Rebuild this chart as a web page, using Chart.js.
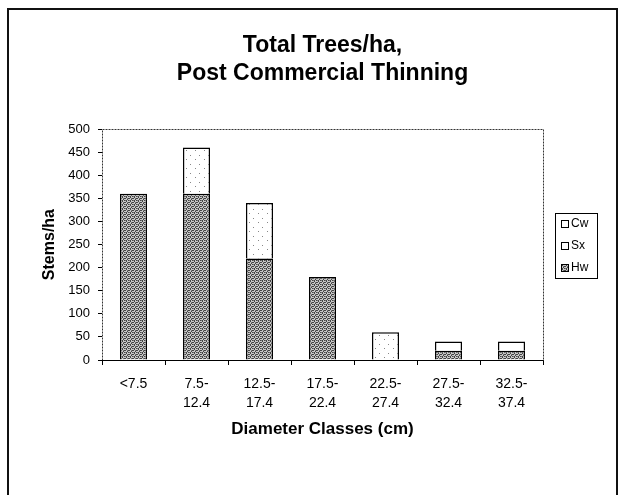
<!DOCTYPE html>
<html>
<head>
<meta charset="utf-8">
<script src="https://cdn.jsdelivr.net/npm/chart.js@4"></script>
<style>
  html, body { margin: 0; padding: 0; background: #fff; }
</style>
</head>
<body>
<canvas id="treesChart" width="621" height="495"></canvas>
<script>
// chart data
var categories = [['<7.5'], ['7.5-', '12.4'], ['12.5-', '17.4'], ['17.5-', '22.4'], ['22.5-', '27.4'], ['27.5-', '32.4'], ['32.5-', '37.4']];
var hwValues = [360, 360, 220, 180, 0, 20, 20];
var sxValues = [0, 100, 120, 0, 60, 0, 0];
var cwValues = [0, 0, 0, 0, 0, 20, 20];
var yTicks = [0, 50, 100, 150, 200, 250, 300, 350, 400, 450, 500];

function makePattern(size, draw) {
  var c = document.createElement('canvas');
  c.width = size; c.height = size;
  var g = c.getContext('2d');
  draw(g);
  return g.createPattern(c, 'repeat');
}

var hwFill = makePattern(4, function (g) {
  g.fillStyle = '#c8c8c8';
  g.fillRect(0, 0, 4, 4);
  g.fillStyle = '#444';
  g.fillRect(0, 0, 1, 1); g.fillRect(2, 1, 1, 1);
  g.fillRect(1, 2, 1, 1); g.fillRect(3, 3, 1, 1);
  g.fillRect(2, 0, 1, 1); g.fillRect(0, 2, 1, 1);
  g.fillStyle = '#777';
  g.fillRect(1, 0, 1, 1); g.fillRect(3, 2, 1, 1);
});
var sxFill = makePattern(9, function (g) {
  g.fillStyle = '#fff';
  g.fillRect(0, 0, 9, 9);
  g.fillStyle = '#888';
  g.fillRect(1, 2, 1, 1); g.fillRect(6, 6, 1, 1);
});

// frame, plot border and boxed legend
var frame = {
  id: 'frame',
  afterDraw: function (chart) {
    var a = chart.chartArea, ctx = chart.ctx;
    ctx.save();
    // outer chart frame
    ctx.strokeStyle = '#111';
    ctx.lineWidth = 2;
    ctx.beginPath();
    ctx.moveTo(8, 500); ctx.lineTo(8, 9); ctx.lineTo(617, 9); ctx.lineTo(617, 500);
    ctx.stroke();
    // plot area
    ctx.lineWidth = 1;
    ctx.strokeStyle = '#333';
    ctx.setLineDash([2, 1]);
    ctx.strokeRect(Math.round(a.left) + 0.5, Math.round(a.top) + 0.5, Math.round(a.right - a.left), Math.round(a.bottom - a.top));
    ctx.setLineDash([]);
    ctx.strokeStyle = '#000';
    ctx.beginPath();
    ctx.moveTo(a.left, Math.round(a.bottom) + 0.5);
    ctx.lineTo(a.right, Math.round(a.bottom) + 0.5);
    ctx.stroke();
    // legend
    var lx = 555, ly = 213, lw = 42, lh = 65;
    ctx.strokeStyle = '#000';
    ctx.strokeRect(lx + 0.5, ly + 0.5, lw, lh);
    var items = chart.data.datasets.slice().reverse();
    ctx.font = '12px "Liberation Sans"';
    ctx.textBaseline = 'middle';
    items.forEach(function (ds, i) {
      var cy = ly + 11 + i * 22;
      ctx.fillStyle = ds.backgroundColor;
      ctx.fillRect(lx + 6, cy - 4, 8, 8);
      ctx.strokeStyle = '#000';
      ctx.strokeRect(lx + 6.5, cy - 3.5, 7, 7);
      ctx.fillStyle = '#000';
      ctx.fillText(ds.label, lx + 16, cy);
    });
    ctx.restore();
  }
};

new Chart(document.getElementById('treesChart').getContext('2d'), {
  type: 'bar',
  data: {
    labels: categories,
    datasets: [
      { label: 'Hw', data: hwValues, backgroundColor: hwFill, borderColor: '#000', borderWidth: 1.5 },
      { label: 'Sx', data: sxValues, backgroundColor: sxFill, borderColor: '#000', borderWidth: 1.5 },
      { label: 'Cw', data: cwValues, backgroundColor: '#fff', borderColor: '#000', borderWidth: 1.5 }
    ]
  },
  options: {
    responsive: false,
    animation: false,
    barPercentage: 0.43,
    categoryPercentage: 1,
    layout: { padding: { left: 24, right: 0, top: 0, bottom: 0 } },
    plugins: {
      title: {
        display: true,
        text: ['Total Trees/ha,', 'Post Commercial Thinning'],
        color: '#000',
        font: { family: 'Liberation Sans', size: 23, weight: 'bold', lineHeight: 1.22 },
        padding: { top: 32, bottom: 41 }
      },
      legend: { display: false },
      tooltip: { enabled: false }
    },
    scales: {
      x: {
        stacked: true,
        afterFit: function (axis) { axis.height = 135; },
        grid: { display: true, drawOnChartArea: false, tickLength: 5, color: '#000', offset: true },
        border: { display: false },
        ticks: { color: '#000', font: { family: 'Liberation Sans', size: 14, lineHeight: 1.35 }, padding: 10, maxRotation: 0 },
        title: { display: true, text: 'Diameter Classes (cm)', color: '#000', font: { family: 'Liberation Sans', size: 17, weight: 'bold', lineHeight: 1.2 }, padding: { bottom: 55 } }
      },
      y: {
        stacked: true,
        min: 0,
        max: 500,
        afterFit: function (axis) { axis.width = 78; },
        afterBuildTicks: function (axis) { axis.ticks = yTicks.map(function (v) { return { value: v }; }); },
        grid: { display: true, drawOnChartArea: false, tickLength: 4, color: '#000' },
        border: { display: false },
        ticks: { color: '#000', font: { family: 'Liberation Sans', size: 13 }, padding: 8 },
        title: { display: true, text: 'Stems/ha', color: '#000', font: { family: 'Liberation Sans', size: 16, weight: 'bold', lineHeight: 1.2 }, padding: { top: 16 } }
      },
      legendSpace: {
        type: 'linear',
        position: 'right',
        afterFit: function (axis) { axis.width = 78; },
        grid: { display: false },
        border: { display: false },
        ticks: { display: false }
      }
    }
  },
  plugins: [frame]
});
</script>
</body>
</html>
